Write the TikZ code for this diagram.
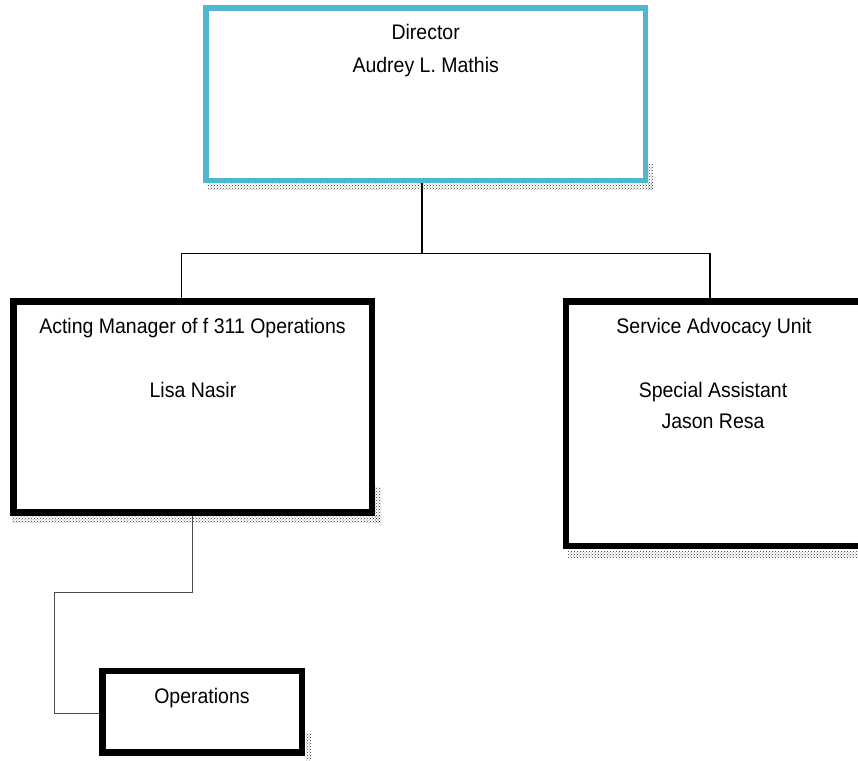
\documentclass[tikz,border=0pt]{standalone}
\usepackage{fontspec}
\setmainfont{Liberation Sans}
\usetikzlibrary{patterns}
\definecolor{dirblue}{HTML}{4FB8D0}
\begin{document}
\begin{tikzpicture}[x=1pt,y=-1pt,
  box/.style={draw=black,line width=6.5pt,fill=white,rectangle,inner sep=0pt},
  dirbox/.style={box,draw=dirblue,line width=5.5pt},
  lbl/.style={anchor=base,inner sep=0pt,font=\fontsize{19.5}{23}\selectfont},
  conn/.style={line width=1.4pt,black},
  thin/.style={line width=1pt,black!70},
  shad/.style={pattern=crosshatch dots,pattern color=black!80}]
\useasboundingbox (0,0) rectangle (858,760);
\clip (0,0) rectangle (858,760);
% shadows
\fill[shad] (208,183) rectangle (653,189.5);
\fill[shad] (648,164) rectangle (653,189.5);
\fill[shad] (12,515.5) rectangle (381,522);
\fill[shad] (375,487) rectangle (381,522);
\fill[shad] (568,551) rectangle (860,557);
\fill[shad] (306,733) rectangle (311,762);
% boxes
\node[dirbox,minimum width=439.5pt,minimum height=172.5pt] (dir) at (425.75,94.25) {};
\node[box,minimum width=358.5pt,minimum height=211pt] (act) at (192.75,407) {};
\node[box,minimum width=334pt,minimum height=244.5pt] (svc) at (733,423.75) {};
\node[box,minimum width=199.5pt,minimum height=81.5pt] (ops) at (202.25,711.75) {};
% labels
\node[lbl] (t1) at (425.7,40) {\scalebox{1}[1.08]{Director}};
\node[lbl] (t2) at (425.7,72) {\scalebox{1}[1.08]{Audrey L. Mathis}};
\node[lbl] (t3) at (192.5,333) {\scalebox{1}[1.08]{Acting Manager of f 311 Operations}};
\node[lbl] (t4) at (193,397) {\scalebox{1}[1.08]{Lisa Nasir}};
\node[lbl] (t5) at (714,333) {\scalebox{1}[1.08]{Service Advocacy Unit}};
\node[lbl] (t6) at (713,397) {\scalebox{1}[1.08]{Special Assistant}};
\node[lbl] (t7) at (713,428) {\scalebox{1}[1.08]{Jason Resa}};
\node[lbl] (t8) at (202,703) {\scalebox{1}[1.08]{Operations}};
% connectors
\coordinate (j) at (422,253.5);
\coordinate (xa) at (181.7,0);
\coordinate (xs) at (710,0);
\draw[conn] (dir.south -| j) -- (j);
\draw[conn] (act.north -| xa) |- (j) -| (svc.north -| xs);
\coordinate (xo) at (192.7,0);
\coordinate (k1) at (192.7,592);
\coordinate (k2) at (54,592);
\coordinate (k3) at (54,713);
\draw[thin] (act.south -| xo) -- (k1) -- (k2) -- (k3) -- (ops.west |- k3);
\end{tikzpicture}
\end{document}
